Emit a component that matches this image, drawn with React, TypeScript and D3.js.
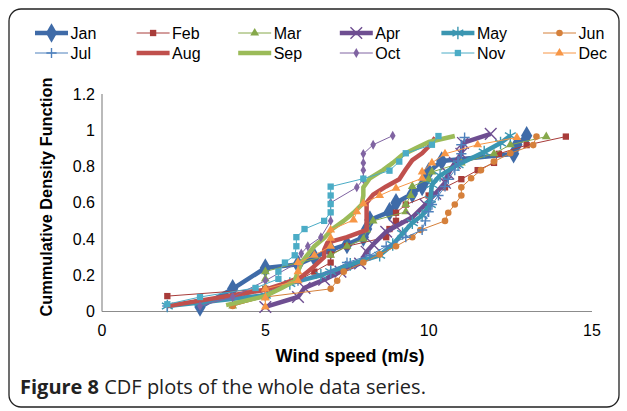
import React from 'react';
import * as d3 from 'd3';

// wind speed (m/s), cumulative density
const jan: [number, number][] = [[3, 0.025], [4, 0.125], [5, 0.24], [6, 0.26], [6.5, 0.3], [7, 0.34], [7.5, 0.37], [8, 0.41], [8.1, 0.455], [8.2, 0.505], [8.8, 0.55], [9, 0.6], [9.5, 0.65], [9.8, 0.69], [9.9, 0.725], [10, 0.77], [10.4, 0.83], [12.6, 0.87], [12.7, 0.92], [13, 0.97]];
const feb: [number, number][] = [[2, 0.085], [5, 0.125], [6, 0.17], [6.5, 0.22], [7, 0.27], [7, 0.315], [7.5, 0.36], [8.7, 0.41], [8.8, 0.455], [9, 0.5], [9, 0.545], [9.3, 0.59], [10, 0.64], [10.5, 0.685], [11, 0.73], [11.5, 0.78], [12, 0.82], [12.15, 0.87], [13, 0.918], [14.2, 0.965]];
const mar: [number, number][] = [[4, 0.03], [5, 0.08], [5, 0.13], [5, 0.18], [5, 0.22], [6, 0.27], [7, 0.31], [7.5, 0.36], [8, 0.4], [8.1, 0.45], [8.3, 0.5], [9.3, 0.55], [9.3, 0.59], [9.45, 0.64], [9.5, 0.69], [10, 0.73], [10.1, 0.77], [11, 0.82], [12, 0.87], [12.5, 0.92], [13.6, 0.965]];
const apr: [number, number][] = [[5, 0.025], [6, 0.08], [6.2, 0.13], [6.8, 0.175], [7.3, 0.22], [7.9, 0.265], [8.1, 0.33], [8.3, 0.37], [8.7, 0.44], [9, 0.47], [9.5, 0.52], [9.9, 0.59], [10.2, 0.65], [10.5, 0.71], [10.6, 0.76], [10.8, 0.82], [11, 0.87], [11.05, 0.93], [11.9, 0.98]];
const may: [number, number][] = [[2, 0.03], [3, 0.05], [5, 0.09], [5.75, 0.155], [6.7, 0.2], [7, 0.22], [7.6, 0.26], [8.5, 0.31], [8.9, 0.37], [9.2, 0.43], [9.5, 0.49], [9.8, 0.53], [10.05, 0.59], [10.05, 0.62], [10.1, 0.7], [10.35, 0.75], [10.9, 0.81], [11.7, 0.88], [12.2, 0.93], [12.5, 0.97]];
const jun: [number, number][] = [[4, 0.03], [5, 0.08], [7, 0.125], [7.2, 0.17], [7.4, 0.22], [8, 0.27], [8.5, 0.315], [9, 0.36], [9.5, 0.41], [9.75, 0.45], [10.5, 0.5], [10.6, 0.545], [10.8, 0.59], [11, 0.64], [11, 0.685], [11.3, 0.735], [11.6, 0.78], [12, 0.827], [12.5, 0.873], [13.2, 0.918], [13.3, 0.965]];
const jul: [number, number][] = [[2, 0.03], [4, 0.07], [5, 0.12], [6, 0.17], [7, 0.22], [7.5, 0.27], [8.2, 0.31], [8.7, 0.36], [9.3, 0.41], [9.8, 0.45], [9.9, 0.5], [10, 0.55], [10.1, 0.59], [10.3, 0.64], [10.5, 0.69], [10.6, 0.73], [10.8, 0.78], [10.9, 0.83], [11, 0.87], [11, 0.92], [11.1, 0.96]];
const aug: [number, number][] = [[2, 0.03], [3, 0.06], [4, 0.09], [5, 0.12], [5.5, 0.15], [6.1, 0.19], [6.3, 0.22], [6.5, 0.25], [6.8, 0.3], [6.8, 0.34], [6.9, 0.38], [7.5, 0.41], [8.1, 0.45], [8.1, 0.5], [8.1, 0.55], [8.1, 0.6], [8.3, 0.645], [8.7, 0.69], [9.1, 0.73], [9.3, 0.785], [9.5, 0.835], [9.8, 0.873], [10.05, 0.92], [10.2, 0.96]];
const sep: [number, number][] = [[3.8, 0.035], [5, 0.085], [5.5, 0.13], [5.9, 0.17], [6, 0.22], [6.1, 0.27], [6.3, 0.315], [6.5, 0.36], [6.8, 0.405], [7.05, 0.455], [7.4, 0.5], [7.7, 0.545], [7.95, 0.59], [8, 0.64], [8, 0.685], [8.2, 0.735], [8.6, 0.78], [8.9, 0.82], [9.2, 0.865], [9.6, 0.9], [10, 0.935], [10.8, 0.968]];
const oct: [number, number][] = [[3, 0.03], [4, 0.08], [5, 0.17], [6, 0.27], [6.1, 0.32], [6.3, 0.36], [6.7, 0.41], [7, 0.5], [7, 0.6], [7.8, 0.685], [8, 0.73], [8, 0.78], [8, 0.82], [8, 0.87], [8.3, 0.92], [8.9, 0.97]];
const nov: [number, number][] = [[2, 0.04], [3, 0.08], [4.7, 0.13], [5.4, 0.18], [5.4, 0.22], [5.6, 0.27], [5.9, 0.31], [5.95, 0.36], [5.95, 0.41], [6.2, 0.455], [6.8, 0.5], [7, 0.547], [7, 0.593], [7, 0.64], [7, 0.689], [8, 0.733], [8.8, 0.777], [9.1, 0.827], [9.3, 0.873], [10.1, 0.92], [10.3, 0.968]];
const dec: [number, number][] = [[5, 0.025], [5, 0.075], [5, 0.125], [6, 0.17], [6, 0.22], [6, 0.27], [6.5, 0.31], [7, 0.36], [7, 0.405], [7, 0.45], [7.7, 0.505], [7.8, 0.55], [8, 0.595], [8.5, 0.64], [9, 0.68], [9.8, 0.735], [9.8, 0.77], [10.1, 0.82], [10.5, 0.87], [11.5, 0.92], [12.7, 0.96]];

const months = ['Jan', 'Feb', 'Mar', 'Apr', 'May', 'Jun', 'Jul', 'Aug', 'Sep', 'Oct', 'Nov', 'Dec'];
const xTicks = [0, 5, 10, 15];
const yTicks = [0, 0.2, 0.4, 0.6, 0.8, 1, 1.2];

const W = 627;
const H = 411;
const FONT = '"Liberation Sans", Arial, sans-serif';

type Style = { data: [number, number][]; color: string; width: number; symbol: d3.SymbolType | null; size: number; hollow: boolean };

const styles: Style[] = [
  { data: jan, color: '#3F6BA8', width: 4.5, symbol: d3.symbolDiamond, size: 110, hollow: false },
  { data: feb, color: '#A83C3A', width: 1, symbol: d3.symbolSquare, size: 40, hollow: false },
  { data: mar, color: '#86A84B', width: 1, symbol: d3.symbolTriangle, size: 34, hollow: false },
  { data: apr, color: '#6E4E91', width: 4.5, symbol: d3.symbolTimes, size: 90, hollow: true },
  { data: may, color: '#3B96B1', width: 4.5, symbol: d3.symbolAsterisk, size: 110, hollow: true },
  { data: jun, color: '#D5803B', width: 1, symbol: d3.symbolCircle, size: 34, hollow: false },
  { data: jul, color: '#4F81BD', width: 1, symbol: d3.symbolPlus, size: 36, hollow: true },
  { data: aug, color: '#C0504D', width: 4.5, symbol: null, size: 0, hollow: false },
  { data: sep, color: '#9BBB59', width: 4.5, symbol: null, size: 0, hollow: false },
  { data: oct, color: '#8064A2', width: 1, symbol: d3.symbolDiamond, size: 28, hollow: false },
  { data: nov, color: '#4BACC6', width: 1, symbol: d3.symbolSquare, size: 40, hollow: false },
  { data: dec, color: '#F79646', width: 1, symbol: d3.symbolTriangle, size: 34, hollow: false },
];

const Marker = ({ s, x, y }: { s: Style; x: number; y: number }) => {
  if (!s.symbol) return null;
  const d = d3.symbol(s.symbol, s.size)() || '';
  return s.hollow
    ? <path d={d} transform={`translate(${x},${y})`} fill="none" stroke={s.color} strokeWidth={1.4} />
    : <path d={d} transform={`translate(${x},${y})`} fill={s.color} stroke="none" />;
};

export default function App() {
  const x = d3.scaleLinear().domain([0, 15]).range([102, 592]);
  const y = d3.scaleLinear().domain([0, 1.2]).range([311.5, 94]);
  const line = d3.line<[number, number]>().x(d => x(d[0])).y(d => y(d[1]));

  return (
    <div style={{ position: 'absolute', left: 0, top: 0 }}>
      <svg width={W} height={H} style={{ display: 'block', background: '#fff' }}>
        <rect x={9} y={9} width={610} height={398} rx={12} fill="none" stroke="#222" strokeWidth={1.3} />

        {/* legend */}
        {months.map((m, i) => {
          const s = styles[i];
          const col = i % 6;
          const row = Math.floor(i / 6);
          const lx = 35 + col * 101.6;
          const ly = 33 + row * 20;
          return (
            <g key={m}>
              <line x1={lx} x2={lx + 33} y1={ly} y2={ly} stroke={s.color} strokeWidth={s.width} />
              <Marker s={s} x={lx + 16.5} y={ly} />
              <text x={lx + 35.5} y={ly + 6} fontFamily={FONT} fontSize={16} fill="#000">{m}</text>
            </g>
          );
        })}

        {/* axes */}
        <line x1={x(0)} x2={x(0)} y1={y(1.2)} y2={y(0)} stroke="#8c8c8c" strokeWidth={1.2} />
        <line x1={x(0)} x2={x(15)} y1={y(0)} y2={y(0)} stroke="#8c8c8c" strokeWidth={1.2} />
        {yTicks.map(t => (
          <text key={t} x={95} y={y(t) + 5.5} textAnchor="end" fontFamily={FONT} fontSize={16} fill="#000">{d3.format('~g')(t)}</text>
        ))}
        {xTicks.map(t => (
          <text key={t} x={x(t)} y={336} textAnchor="middle" fontFamily={FONT} fontSize={16} fill="#000">{t}</text>
        ))}
        <text x={350} y={362} textAnchor="middle" fontFamily={FONT} fontSize={18} fontWeight="bold" fill="#000">Wind speed (m/s)</text>
        <text transform="translate(52,197) rotate(-90)" textAnchor="middle" fontFamily={FONT} fontSize={16.3} fontWeight="bold" fill="#000">Cummulative Density Function</text>

        {/* series */}
        {styles.map((s, i) => (
          <g key={months[i]}>
            <path d={line(s.data) || ''} fill="none" stroke={s.color} strokeWidth={s.width} strokeLinejoin="round" />
            {s.data.map((d, j) => <Marker key={j} s={s} x={x(d[0])} y={y(d[1])} />)}
          </g>
        ))}

        <text x={20} y={394} fontFamily='"Open Sans", "Noto Sans", sans-serif' fontSize={20} fill="#222">
          <tspan fontWeight="bold">Figure 8</tspan> CDF plots of the whole data series.
        </text>
      </svg>
    </div>
  );
}
